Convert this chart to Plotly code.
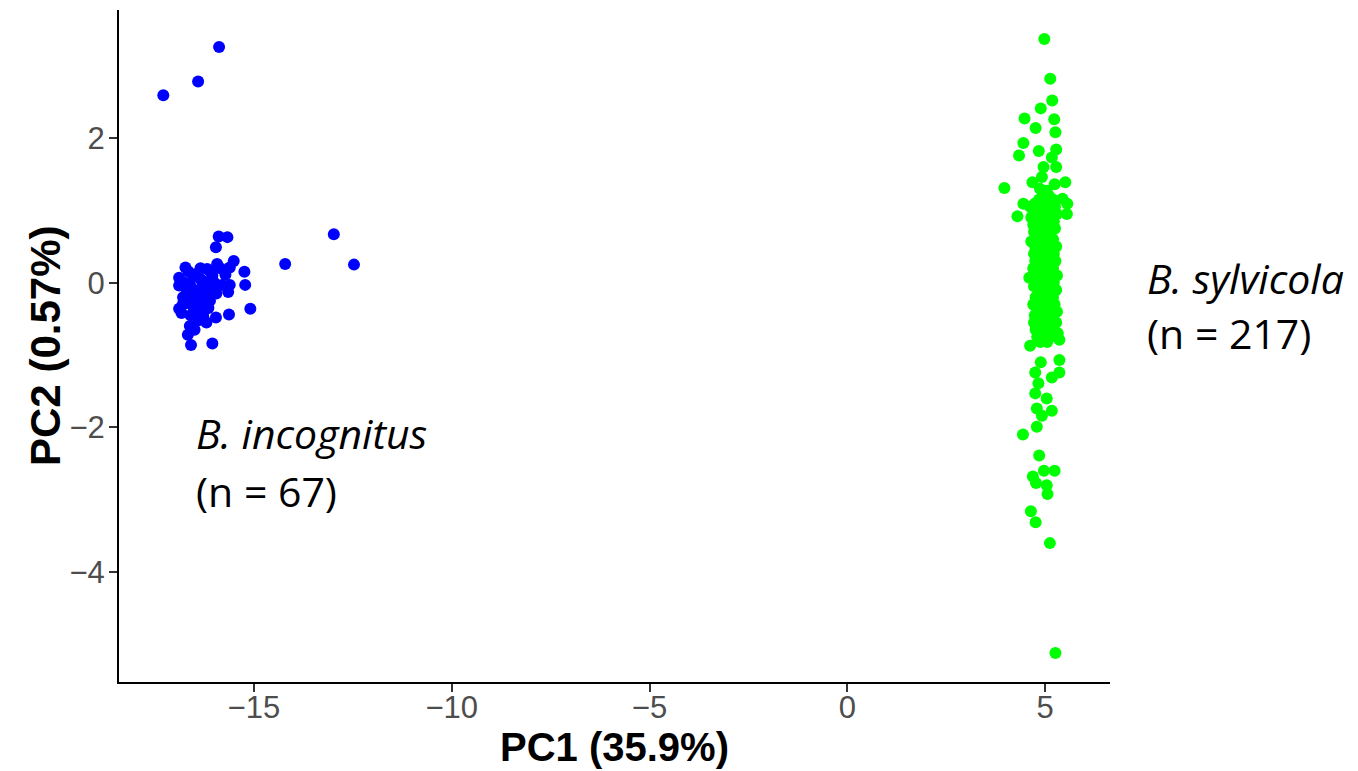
import plotly.graph_objects as go

# ---- data (PC1, PC2) ----
incognitus_points = [
    (-15.88, 3.26), (-16.41, 2.78), (-17.29, 2.59), (-12.98, 0.67), (-14.21, 0.26), (-12.47, 0.25),
    (-15.89, 0.64), (-15.67, 0.63), (-15.96, 0.49),
    (-16.73, 0.21), (-15.93, 0.26), (-15.51, 0.30), (-15.61, 0.21), (-15.24, 0.15), (-16.18, 0.19),
    (-16.89, 0.07), (-16.89, -0.04), (-16.53, 0.08), (-16.15, -0.06), (-15.81, -0.03), (-15.61, -0.03),
    (-15.22, -0.03), (-15.72, 0.11), (-15.65, -0.13), (-15.09, -0.36), (-15.63, -0.44), (-15.96, -0.48),
    (-16.28, -0.47), (-16.79, -0.20), (-16.89, -0.36), (-16.83, -0.42), (-16.62, -0.60), (-16.67, -0.72),
    (-16.59, -0.86), (-16.05, -0.84), (-16.11, -0.25),
    (-16.45, 0.12), (-16.35, 0.05), (-16.60, -0.05), (-16.70, -0.10), (-16.50, -0.15), (-16.40, -0.22),
    (-16.30, -0.30), (-16.55, -0.32), (-16.70, -0.28), (-16.45, -0.40), (-16.25, -0.38), (-16.60, -0.45),
    (-16.40, -0.52), (-16.50, -0.65), (-16.20, -0.15), (-16.05, 0.10), (-16.00, 0.00), (-15.95, -0.15),
    (-16.20, -0.55), (-16.75, 0.00), (-16.35, 0.20), (-16.10, 0.15), (-15.85, 0.20), (-16.80, -0.30),
    (-16.65, 0.15), (-16.30, -0.05), (-16.15, -0.35), (-16.48, -0.28), (-16.58, -0.20), (-16.38, -0.10),
    (-16.28, 0.02),
]

sylvicola_points = [
    (4.98, 3.37), (5.13, 2.82), (5.18, 2.52), (4.89, 2.41), (4.48, 2.27), (5.23, 2.26), (4.76, 2.14),
    (5.26, 2.08), (4.45, 1.93), (4.34, 1.76), (4.84, 1.82), (5.28, 1.84), (5.17, 1.73), (4.96, 1.60),
    (5.28, 1.60), (4.92, 1.46), (4.68, 1.39), (5.51, 1.39), (5.24, 1.36), (3.97, 1.31), (4.87, 1.30),
    (5.04, 1.27), (5.44, 1.16), (5.56, 1.09), (5.55, 0.95), (4.45, 1.09), (4.30, 0.92), (4.60, 0.07),
    (4.65, 0.57),
    (4.62, -0.87), (5.36, -0.79), (5.36, -1.07), (4.89, -1.10), (4.75, -1.24), (5.36, -1.24),
    (5.17, -1.31), (4.83, -1.39), (4.75, -1.53), (5.04, -1.60), (4.79, -1.74), (5.17, -1.77),
    (4.92, -1.84), (4.79, -1.99), (4.44, -2.10), (4.85, -2.39), (4.97, -2.60), (5.24, -2.60),
    (4.69, -2.68), (4.77, -2.77), (5.04, -2.80), (5.06, -2.92), (4.64, -3.16), (4.76, -3.31),
    (5.12, -3.60), (5.26, -5.12),
    (4.95, 1.20), (5.10, 1.20),
    (4.85, 1.15), (5.05, 1.15), (5.20, 1.15),
    (4.75, 1.10), (4.95, 1.10), (5.15, 1.10),
    (4.62, 1.05), (4.90, 1.05), (5.08, 1.05), (5.25, 1.05),
    (4.70, 1.00), (4.85, 1.00), (5.00, 1.00), (5.15, 1.00),
    (4.80, 0.95), (4.95, 0.95), (5.10, 0.95), (5.30, 0.95),
    (4.65, 0.90), (4.88, 0.90), (5.02, 0.90), (5.18, 0.90),
    (4.75, 0.85), (4.92, 0.85), (5.06, 0.85), (5.22, 0.85),
    (4.70, 0.80), (4.85, 0.80), (5.00, 0.80), (5.12, 0.80),
    (4.80, 0.75), (4.95, 0.75), (5.08, 0.75), (5.25, 0.75),
    (4.72, 0.70), (4.90, 0.70), (5.04, 0.70), (5.15, 0.70),
    (4.82, 0.65), (4.98, 0.65), (5.10, 0.65),
    (4.78, 0.60), (4.93, 0.60), (5.06, 0.60), (5.20, 0.60),
    (4.88, 0.55), (5.02, 0.55), (5.14, 0.55),
    (4.75, 0.50), (4.90, 0.50), (5.05, 0.50), (5.28, 0.50),
    (4.85, 0.45), (5.00, 0.45), (5.12, 0.45),
    (4.72, 0.40), (4.92, 0.40), (5.06, 0.40), (5.22, 0.40),
    (4.82, 0.35), (4.98, 0.35), (5.15, 0.35),
    (4.75, 0.30), (4.90, 0.30), (5.04, 0.30), (5.26, 0.30),
    (4.86, 0.25), (5.00, 0.25), (5.12, 0.25),
    (4.70, 0.20), (4.94, 0.20), (5.08, 0.20), (5.20, 0.20),
    (4.80, 0.15), (4.96, 0.15), (5.10, 0.15),
    (4.88, 0.10), (5.02, 0.10), (5.16, 0.10), (5.30, 0.10),
    (4.76, 0.05), (4.92, 0.05), (5.06, 0.05),
    (4.84, 0.00), (4.98, 0.00), (5.12, 0.00), (5.22, 0.00),
    (4.72, -0.05), (4.90, -0.05), (5.04, -0.05),
    (4.82, -0.10), (4.96, -0.10), (5.10, -0.10), (5.28, -0.10),
    (4.88, -0.15), (5.02, -0.15), (5.16, -0.15),
    (4.76, -0.20), (4.92, -0.20), (5.06, -0.20), (5.20, -0.20),
    (4.84, -0.25), (4.98, -0.25), (5.12, -0.25),
    (4.70, -0.30), (4.90, -0.30), (5.04, -0.30), (5.24, -0.30),
    (4.80, -0.35), (4.96, -0.35), (5.10, -0.35),
    (4.86, -0.40), (5.00, -0.40), (5.15, -0.40), (5.30, -0.40),
    (4.74, -0.45), (4.92, -0.45), (5.06, -0.45),
    (4.84, -0.50), (4.98, -0.50), (5.18, -0.50),
    (4.72, -0.55), (4.90, -0.55), (5.04, -0.55), (5.28, -0.55),
    (4.82, -0.60), (4.96, -0.60), (5.12, -0.60),
    (4.76, -0.65), (4.92, -0.65), (5.06, -0.65), (5.22, -0.65),
    (4.86, -0.70), (5.00, -0.70), (5.32, -0.70),
    (4.80, -0.75), (4.94, -0.75), (5.12, -0.75),
    (4.88, 0.98), (5.05, 0.98), (4.98, 0.72), (4.80, 0.42), (5.00, 0.12), (4.95, -0.08),
    (4.90, -0.38), (5.00, 0.58), (4.98, 0.28), (4.98, -0.22), (4.92, -0.52), (4.95, 0.82),
    (4.96, 0.52), (5.02, 0.22), (5.05, -0.02), (5.08, -0.28), (5.02, -0.62), (4.88, -0.82),
    (5.05, -0.82), (5.10, 0.88), (4.88, 0.62), (5.05, -0.12),
]

x_ticks = [-15, -10, -5, 0, 5]
y_ticks = [-4, -2, 0, 2]
x_title = "PC1 (35.9%)"
y_title = "PC2 (0.57%)"

inc_x = [p[0] for p in incognitus_points]
inc_y = [p[1] for p in incognitus_points]
syl_x = [p[0] for p in sylvicola_points]
syl_y = [p[1] for p in sylvicola_points]

fig = go.Figure()
fig.add_trace(go.Scatter(x=inc_x, y=inc_y, mode="markers",
                         marker=dict(color="#0000FF", size=12, line=dict(width=0)),
                         showlegend=False))
fig.add_trace(go.Scatter(x=syl_x, y=syl_y, mode="markers",
                         marker=dict(color="#00FF00", size=12, line=dict(width=0)),
                         showlegend=False))

label_font = dict(family="Open Sans", size=41, color="black")
# B. sylvicola sits to the right of the plotting panel (paper x), B. incognitus inside it
annotations = [
    dict(xref="paper", x=1.035, y=0.07, text="<i>B. sylvicola</i>"),
    dict(xref="paper", x=1.035, y=-0.69, text="(n = 217)"),
    dict(xref="x", x=-16.52, y=-2.08, text="<i>B. incognitus</i>"),
    dict(xref="x", x=-16.52, y=-2.88, text="(n = 67)"),
]
for a in annotations:
    fig.add_annotation(yref="y", showarrow=False, xanchor="left",
                       yanchor="middle", font=label_font, **a)

# axis titles placed as paper annotations so the panel keeps its size
fig.add_annotation(xref="paper", yref="paper", x=0.5, y=-0.1324, xanchor="center",
                   yanchor="bottom", showarrow=False, text="<b>" + x_title + "</b>",
                   font=dict(family="Liberation Sans, Arial", size=40, color="black"))
fig.add_annotation(xref="paper", yref="paper", x=-0.0747, y=0.5, xanchor="center",
                   yanchor="middle", showarrow=False, textangle=-90,
                   text="<b>" + y_title + "</b>",
                   font=dict(family="Liberation Sans, Arial", size=42, color="black"))

axis_common = dict(showgrid=False, zeroline=False, showline=True, linecolor="black",
                   linewidth=2, ticks="outside", ticklen=8, tickwidth=1.5,
                   tickcolor="#333333", automargin=False,
                   tickfont=dict(family="Liberation Sans, Arial", size=31, color="#4d4d4d"))

fig.update_layout(
    width=1358, height=771,
    margin=dict(l=119, r=248, t=10, b=89),
    paper_bgcolor="white", plot_bgcolor="white",
    xaxis=dict(range=[-18.41, 6.64], tickvals=x_ticks,
               ticktext=["\u221215", "\u221210", "\u22125", "0", "5"],
               ticklabelstandoff=-11, **axis_common),
    yaxis=dict(range=[-5.52, 3.77], tickvals=y_ticks,
               ticktext=["\u22124", "\u22122", "0", "2"],
               ticklabelstandoff=-2, **axis_common),
)

fig.write_html("out.html")
